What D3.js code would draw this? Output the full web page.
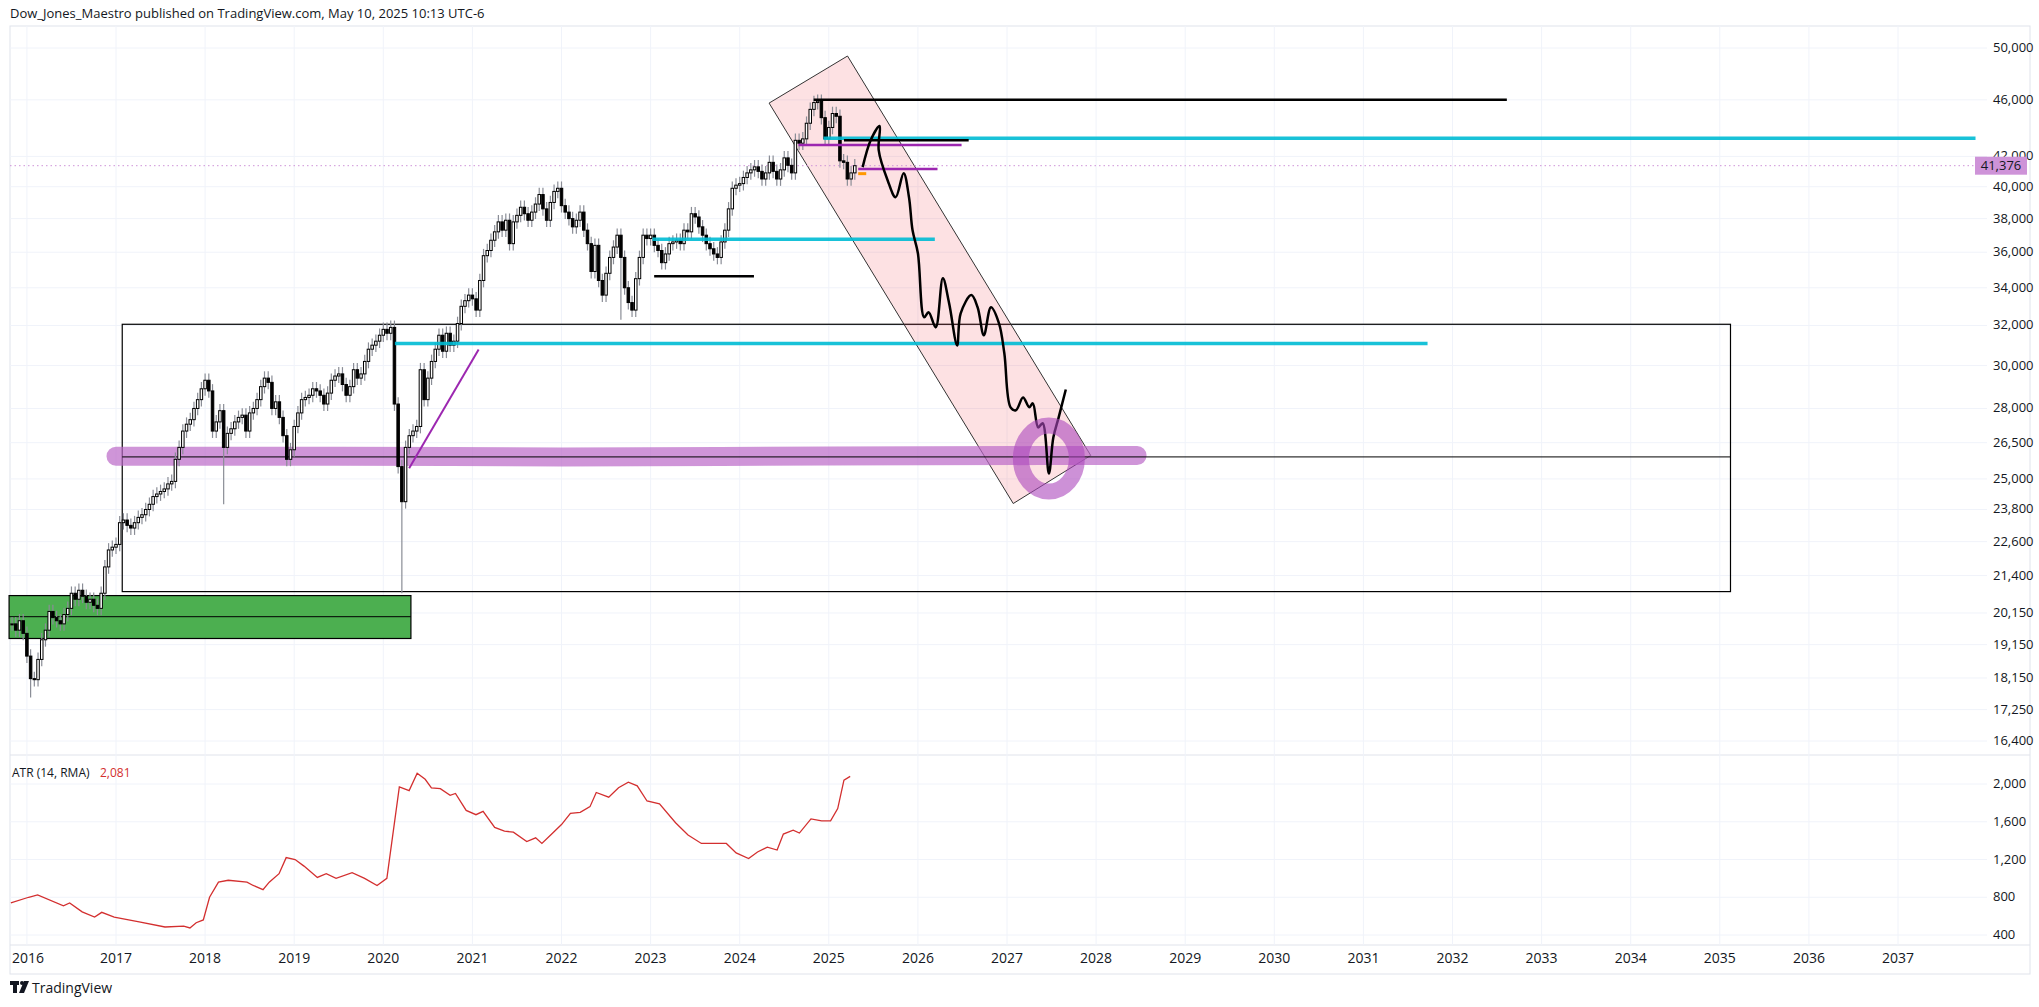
<!DOCTYPE html>
<html><head><meta charset="utf-8">
<script src="https://cdn.jsdelivr.net/npm/d3@7"></script>
<style>body{margin:0;background:#fff;font-family:"Open Sans",Roboto,sans-serif;}svg{display:block}</style>
</head><body><svg id="c" width="2039" height="1007"></svg>
<script>
// semi-monthly closes, starting 2015.833, step 1/24 year
const startYear = 2015 + 20 / 24;
const closes = [
  19800, 19600, 19900, 19500,
  18800, 18130, 18100, 18700, 19300, 19600, 20200, 20000, 19900, 19800, 20100, 20300, 20800, 20600, 20900, 20700, 20500, 20600, 20400, 20300, 20800, 21700, 22300, 22400,
  22500, 23300, 23400, 23200, 23100, 23300, 23500, 23600, 23800, 24000, 24300, 24400, 24500, 24600, 24800, 24900, 25800, 26300, 27000, 27300, 27500, 28000, 28400, 28900,
  29300, 28800, 27000, 27400, 27900, 26300, 26900, 27100, 27400, 27600, 27700, 27000, 27800, 28000, 28400, 29000, 29400, 29200, 28000, 28300, 27600, 26800, 25800, 26200,
  27200, 27800, 28400, 28500, 28600, 28900, 28800, 28600, 28200, 28700, 29300, 29500, 29600, 29100, 28600, 29000, 29800, 29400, 29600, 30200, 30800, 31000, 31200, 31500,
  31800, 31600, 31900, 28200, 25500, 24100, 26300, 26800, 27000, 27200, 29800, 28400, 29400, 30200, 30800, 31500, 30700, 31600, 31000, 31200, 32100, 33000, 33300, 33600,
  33400, 32800, 34400, 35800, 36100, 36700, 37200, 37800, 37300, 37900, 36500, 37800, 38200, 38700, 38300, 37900, 38400, 38900, 39500, 38600, 37900, 39000, 39700, 39900,
  38800, 38400, 38000, 37500, 37900, 38400, 37300, 36500, 34900, 36400, 34400, 33600, 34800, 35700, 36300, 37000, 35700, 34000, 33200, 32800, 34500, 35700, 37000, 36800,
  37000, 36400, 36100, 35400, 35900, 36500, 36600, 36700, 36500, 37300, 37200, 38300, 38100, 37500, 37000, 36500, 36200, 35900, 35700, 36600, 37300, 38600, 39900, 40100,
  40200, 40600, 40900, 41100, 41300, 41000, 40500, 40900, 41600, 41000, 40500, 41100, 41900, 41400, 40900, 43100, 42900, 43200, 44300, 45300, 45800, 45900, 44700, 43200,
  44000, 45000, 44800, 41700, 41600, 40500, 40900, 41376
];
// long wicks: [candle index, low]
const wickLows = [[5, 17590], [57, 24000], [105, 20800], [164, 32300], [233, 36700]];

const atr = [
  [2015.82, 740], [2016.02, 800], [2016.12, 825], [2016.41, 710], [2016.48, 740], [2016.62, 645], [2016.76, 590], [2016.84, 640],
  [2016.98, 590], [2017.26, 540], [2017.55, 485], [2017.76, 495], [2017.83, 475], [2017.90, 530], [2017.98, 560], [2018.05, 800],
  [2018.15, 960], [2018.26, 980], [2018.47, 960], [2018.54, 925], [2018.65, 880], [2018.72, 960], [2018.83, 1050], [2018.91, 1220],
  [2019.01, 1200], [2019.11, 1130], [2019.26, 1010], [2019.36, 1050], [2019.47, 1000], [2019.65, 1060], [2019.79, 1000], [2019.93, 925],
  [2020.04, 1000], [2020.18, 1970], [2020.29, 1930], [2020.38, 2115], [2020.47, 2050], [2020.54, 1960], [2020.64, 1950], [2020.75, 1880],
  [2020.81, 1900], [2020.93, 1720], [2021.04, 1675], [2021.12, 1710], [2021.25, 1540], [2021.36, 1500], [2021.46, 1490], [2021.61, 1390],
  [2021.71, 1430], [2021.78, 1370], [2021.89, 1470], [2022.00, 1570], [2022.10, 1690], [2022.21, 1700], [2022.32, 1760], [2022.39, 1910],
  [2022.53, 1860], [2022.64, 1960], [2022.75, 2020], [2022.85, 1980], [2022.96, 1820], [2023.10, 1790], [2023.28, 1590], [2023.42, 1460],
  [2023.57, 1370], [2023.71, 1370], [2023.85, 1370], [2023.96, 1270], [2024.10, 1210], [2024.20, 1280], [2024.31, 1330], [2024.42, 1300],
  [2024.49, 1470], [2024.60, 1510], [2024.67, 1480], [2024.80, 1630], [2024.92, 1610], [2025.02, 1610], [2025.10, 1740], [2025.17, 2040],
  [2025.24, 2081]
];

const priceTicks = [50000, 46000, 42000, 40000, 38000, 36000, 34000, 32000, 30000, 28000, 26500, 25000, 23800, 22600, 21400, 20150, 19150, 18150, 17250, 16400];
const atrTicks = [2000, 1600, 1200, 800, 400];
const yearTicks = d3.range(2016, 2038);
const lastPrice = 41376;

// drawings in [year, price]
const channel = [[2024.33, 45760], [2025.21, 49360], [2027.94, 25960], [2027.07, 24030]];
const projection = [
  [2025.38, 41280], [2025.47, 43110], [2025.57, 44100], [2025.56, 42420], [2025.66, 40420], [2025.75, 39330], [2025.84, 40880],
  [2025.90, 39330], [2025.94, 37290], [2026.00, 35940], [2026.07, 32420], [2026.12, 32690], [2026.20, 31900], [2026.28, 34520],
  [2026.35, 33170], [2026.44, 30990], [2026.48, 32630], [2026.60, 33600], [2026.67, 32950], [2026.74, 31500], [2026.82, 32950],
  [2026.91, 32110], [2026.97, 30600], [2027.04, 28050], [2027.10, 27920], [2027.18, 28500], [2027.25, 28050], [2027.29, 28230],
  [2027.35, 27160], [2027.40, 27340], [2027.47, 25220], [2027.52, 26720], [2027.58, 27600], [2027.66, 28870]
];
const bigBox = [2017.07, 2035.12, 32060, 20855];
const midLine = [2017.07, 2035.12, 25900];
const greenBox = [2015.8, 2020.31, 20722, 19340];
const greenMid = 20030;
const band = [[2017.0, 25930], [2019.5, 25930], [2022.0, 25900], [2025.0, 25940], [2028.46, 25960]];
const cyanLines = [[2020.13, 2031.72, 31090], [2023.02, 2026.19, 36760], [2024.94, 2037.87, 43250]];
const blackLines = [[2024.83, 2032.61, 46000], [2025.17, 2026.57, 43100], [2023.04, 2024.16, 34640]];
const purpleLines = [[2024.66, 2026.49, 42780], [2025.33, 2026.22, 41150]];
const trendLine = [[2020.29, 25430], [2021.07, 30780]];
const circle = [2027.47, 25830];

const svg = d3.select('#c');
const L = 10, R = 1987;
const x = d3.scaleLinear().domain([2017, 2037]).range([116, 1898]);
const y = d3.scaleLog().domain([50000, 16400]).range([48, 741]);
const ya = d3.scaleLinear().domain([2000, 400]).range([784, 935]);

svg.append('text').attr('x', 10).attr('y', 18).attr('font-size', 13).attr('fill', '#131722')
  .text('Dow_Jones_Maestro published on TradingView.com, May 10, 2025 10:13 UTC-6');

// frame
svg.append('rect').attr('x', L).attr('y', 26).attr('width', 2030 - L).attr('height', 948).attr('fill', 'none').attr('stroke', '#e0e3eb');
svg.append('line').attr('x1', L).attr('x2', 2030).attr('y1', 755).attr('y2', 755).attr('stroke', '#e0e3eb');
svg.append('line').attr('x1', L).attr('x2', 2030).attr('y1', 945).attr('y2', 945).attr('stroke', '#e0e3eb');

const grid = svg.append('g').attr('stroke', '#f0f3fa');
priceTicks.forEach(t => grid.append('line').attr('x1', L).attr('x2', R).attr('y1', y(t)).attr('y2', y(t)));
atrTicks.forEach(t => grid.append('line').attr('x1', L).attr('x2', R).attr('y1', ya(t)).attr('y2', ya(t)));
yearTicks.forEach(t => grid.append('line').attr('x1', x(t)).attr('x2', x(t)).attr('y1', 26).attr('y2', 945));

// axes labels
const lab = svg.append('g').attr('font-size', 13).attr('fill', '#131722');
priceTicks.forEach(t => lab.append('text').attr('x', 1993).attr('y', y(t) + 4).text(d3.format(',')(t)));
atrTicks.forEach(t => lab.append('text').attr('x', 1993).attr('y', ya(t) + 4).text(d3.format(',')(t)));
yearTicks.forEach(t => lab.append('text').attr('y', 963).attr('font-size', 14)
  .attr('text-anchor', t === 2016 ? 'start' : 'middle').attr('x', t === 2016 ? 12 : x(t)).text(t));

// boxes
svg.append('rect').attr('x', x(greenBox[0])).attr('y', y(greenBox[2])).attr('width', x(greenBox[1]) - x(greenBox[0]))
  .attr('height', y(greenBox[3]) - y(greenBox[2])).attr('fill', '#4caf50').attr('stroke', '#000').attr('stroke-width', 1.2);
svg.append('line').attr('x1', x(greenBox[0])).attr('x2', x(greenBox[1])).attr('y1', y(greenMid)).attr('y2', y(greenMid)).attr('stroke', '#000');
svg.append('rect').attr('x', x(bigBox[0])).attr('y', y(bigBox[2])).attr('width', x(bigBox[1]) - x(bigBox[0]))
  .attr('height', y(bigBox[3]) - y(bigBox[2])).attr('fill', 'none').attr('stroke', '#000').attr('stroke-width', 1.2);

// channel
svg.append('path').attr('d', d3.line().x(d => x(d[0])).y(d => y(d[1]))(channel) + 'Z')
  .attr('fill', 'rgba(242,54,69,0.15)').attr('stroke', '#333').attr('stroke-width', 1);

// band
svg.append('path').attr('d', d3.line().x(d => x(d[0])).y(d => y(d[1])).curve(d3.curveMonotoneX)(band))
  .attr('fill', 'none').attr('stroke', 'rgba(186,104,200,0.7)').attr('stroke-width', 19).attr('stroke-linecap', 'round');
svg.append('line').attr('x1', x(midLine[0])).attr('x2', x(midLine[1])).attr('y1', y(midLine[2])).attr('y2', y(midLine[2])).attr('stroke', '#000').attr('stroke-width', 1);

// last price dotted line
svg.append('line').attr('x1', L).attr('x2', R).attr('y1', y(lastPrice)).attr('y2', y(lastPrice))
  .attr('stroke', '#ce93d8').attr('stroke-dasharray', '1.5,3');

// candles
const step = 1 / 24;
const cw = x(step) - x(0) - 1.2;
const cg = svg.append('g');
closes.forEach((c, i) => {
  const o = i === 0 ? c : closes[i - 1];
  const t = startYear + i * step;
  let hi = Math.max(o, c) * 1.011, lo = Math.min(o, c) * 0.989;
  const w = wickLows.find(d => d[0] === i);
  if (w) lo = w[1];
  const cx = x(t);
  cg.append('line').attr('x1', cx).attr('x2', cx).attr('y1', y(hi)).attr('y2', y(lo)).attr('stroke', '#8a8d96').attr('stroke-width', 1.2);
  cg.append('rect').attr('x', cx - cw / 2).attr('y', y(Math.max(o, c))).attr('width', cw)
    .attr('height', Math.max(1, Math.abs(y(o) - y(c)))).attr('fill', c >= o ? '#fff' : '#000').attr('stroke', '#000').attr('stroke-width', 1);
});

// horizontal lines
cyanLines.forEach(d => svg.append('line').attr('x1', x(d[0])).attr('x2', x(d[1])).attr('y1', y(d[2])).attr('y2', y(d[2])).attr('stroke', '#00bcd4').attr('stroke-width', 3.5).attr('opacity', 0.9));
blackLines.forEach(d => svg.append('line').attr('x1', x(d[0])).attr('x2', x(d[1])).attr('y1', y(d[2])).attr('y2', y(d[2])).attr('stroke', '#000').attr('stroke-width', 2.5));
purpleLines.forEach(d => svg.append('line').attr('x1', x(d[0])).attr('x2', x(d[1])).attr('y1', y(d[2])).attr('y2', y(d[2])).attr('stroke', '#9c27b0').attr('stroke-width', 2.5));
svg.append('line').attr('x1', x(trendLine[0][0])).attr('y1', y(trendLine[0][1])).attr('x2', x(trendLine[1][0])).attr('y2', y(trendLine[1][1]))
  .attr('stroke', '#9c27b0').attr('stroke-width', 2);
svg.append('line').attr('x1', x(2025.33)).attr('x2', x(2025.42)).attr('y1', y(40850)).attr('y2', y(40850)).attr('stroke', '#ff9800').attr('stroke-width', 3);

// projection
svg.append('path').attr('d', d3.line().x(d => x(d[0])).y(d => y(d[1])).curve(d3.curveCatmullRom)(projection))
  .attr('fill', 'none').attr('stroke', '#000').attr('stroke-width', 2.5).attr('stroke-linejoin', 'round');

// circle
svg.append('ellipse').attr('cx', x(circle[0])).attr('cy', y(circle[1])).attr('rx', 28).attr('ry', 33)
  .attr('fill', 'none').attr('stroke', 'rgba(171,71,188,0.6)').attr('stroke-width', 16);

// last price label
svg.append('rect').attr('x', 1975).attr('y', y(lastPrice) - 9).attr('width', 52).attr('height', 18).attr('fill', '#ce93d8');
svg.append('text').attr('x', 2001).attr('y', y(lastPrice) + 4.5).attr('text-anchor', 'middle').attr('font-size', 13).attr('fill', '#131722').text('41,376');

// ATR
svg.append('path').attr('d', d3.line().x(d => x(d[0])).y(d => ya(d[1]))(atr))
  .attr('fill', 'none').attr('stroke', '#d32f2f').attr('stroke-width', 1.3);
svg.append('text').attr('x', 12).attr('y', 777).attr('font-size', 12).attr('fill', '#131722').text('ATR (14, RMA)');
svg.append('text').attr('x', 100).attr('y', 777).attr('font-size', 12).attr('fill', '#d32f2f').text('2,081');

// footer logo
const logo = svg.append('g').attr('fill', '#131722');
logo.append('rect').attr('x', 10).attr('y', 981).attr('width', 9).attr('height', 4);
logo.append('rect').attr('x', 13).attr('y', 981).attr('width', 4).attr('height', 12);
logo.append('circle').attr('cx', 22).attr('cy', 983).attr('r', 2);
logo.append('path').attr('d', 'M24,981 L29,981 L24,993 L19,993 Z');
svg.append('text').attr('x', 32).attr('y', 993).attr('font-size', 14).attr('fill', '#131722').text('TradingView');
</script></body></html>
